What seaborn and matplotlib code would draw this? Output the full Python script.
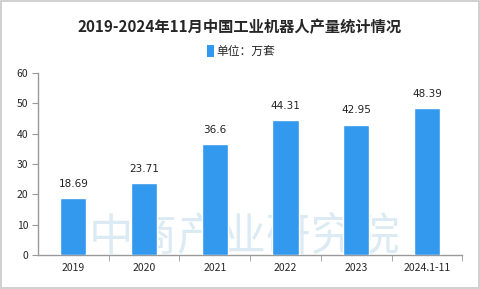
import matplotlib
matplotlib.use("Agg")
import matplotlib.pyplot as plt
import seaborn as sb
import pandas as pd
from matplotlib.patches import Rectangle

# Data
years = ["2019", "2020", "2021", "2022", "2023", "2024.1-11"]
output = [18.69, 23.71, 36.6, 44.31, 42.95, 48.39]
value_labels = ["18.69", "23.71", "36.6", "44.31", "42.95", "48.39"]
y_ticks = [0, 10, 20, 30, 40, 50, 60]

sb.set_style("white")
plt.rcParams["font.family"] = ["Noto Sans CJK SC", "DejaVu Sans"]

df = pd.DataFrame({"year": years, "output": output})

fig = plt.figure(figsize=(4.8, 2.89), dpi=100)
fig.patches.append(
    Rectangle((0.003, 0.003), 0.994, 0.994, transform=fig.transFigure,
              fill=False, edgecolor="#c8c8c8", linewidth=1.2)
)
ax = fig.add_axes([0.079, 0.118, 0.884, 0.63])
ax.set_zorder(2)

# Watermark (behind the bars)
fig.text(0.51, 0.18, "中商产业研究院", fontsize=32, color="#a9cce3",
         alpha=0.4, ha="center", va="center", zorder=0)

sb.barplot(data=df, x="year", y="output", color="#3399ee", saturation=1,
           width=0.37, ax=ax, zorder=3)

for i, (v, lab) in enumerate(zip(output, value_labels)):
    ax.text(i, v + 3, lab, ha="center", va="bottom", fontsize=7.5,
            color="#222222", family="DejaVu Sans")

ax.set_ylim(0, 60)
ax.set_yticks(y_ticks)
ax.set_xlim(-0.5, 5.5)
ax.set_xlabel("")
ax.set_ylabel("")
ax.set_facecolor("none")
for s in ["top", "right"]:
    ax.spines[s].set_visible(False)
for s in ["left", "bottom"]:
    ax.spines[s].set_color("#999999")
    ax.spines[s].set_linewidth(1)
ax.tick_params(axis="y", length=4, color="#999999", labelsize=7.5,
               left=True, pad=3)
ax.tick_params(axis="x", length=0, labelsize=7.5, pad=6)
ax.set_xticks([i + 0.5 for i in range(6)], minor=True)
ax.tick_params(axis="x", which="minor", length=4, color="#999999", bottom=True)

fig.text(0.5, 0.905, "2019-2024年11月中国工业机器人产量统计情况",
         ha="center", va="center", fontsize=11, fontweight="bold")
fig.patches.append(
    Rectangle((0.431, 0.803), 0.0145, 0.04, transform=fig.transFigure,
              facecolor="#3399ee", edgecolor="none")
)
fig.text(0.45, 0.822, "单位：万套", ha="left", va="center", fontsize=8.5)

fig.savefig("out.png", dpi=100)
